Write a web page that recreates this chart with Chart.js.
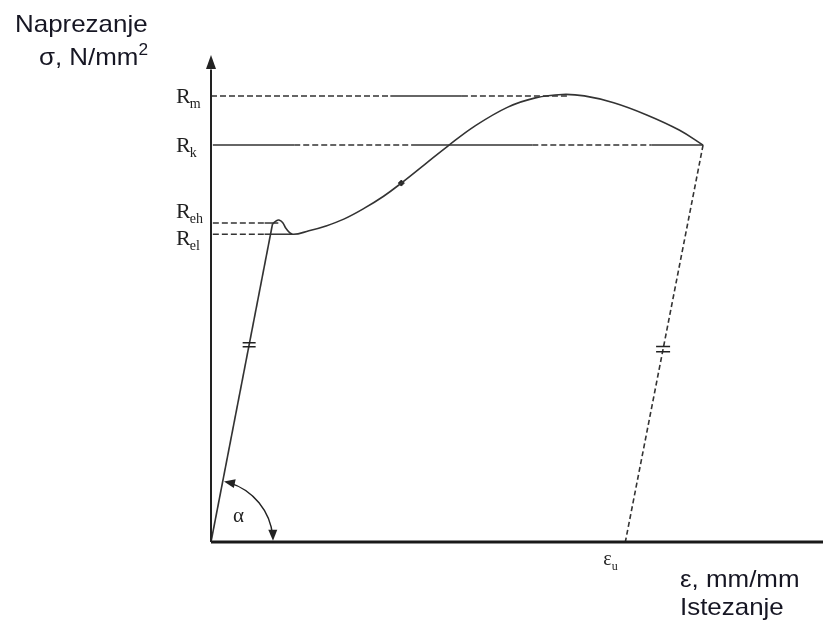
<!DOCTYPE html>
<html>
<head>
<meta charset="utf-8">
<script src="https://cdn.jsdelivr.net/npm/chart.js@4.4.1/dist/chart.umd.min.js"></script>
<style>
  html, body { margin: 0; padding: 0; background: #fff; }
  #wrap { width: 828px; height: 623px; position: relative; }
</style>
</head>
<body>
<div id="wrap"><canvas id="chart"></canvas></div>
<script>
// axis units: x = strain 0..100, y = stress 0..100 (arrow tip)
const levelNames = ['m', 'k', 'eh', 'el'];
const levelValues = [91.6, 81.5, 65.5, 63.2];

// elastic part, origin -> upper yield point
const elasticX = [0, 10.05];
const elasticY = [0, 65.3];

// yield bump + hardening curve up to fracture
const curveX = [10.05, 10.6, 11.1, 11.7, 12.3, 13.3, 16.0, 18.8, 21.7, 25.0, 28.2, 31.1, 35.0, 38.7, 43.1, 48.5, 53.0, 57.4, 61.0, 65.8, 71.2, 76.5, 80.4];
const curveY = [65.3, 65.9, 66.1, 65.6, 64.3, 63.2, 63.9, 64.9, 66.3, 68.5, 71.0, 73.7, 77.6, 81.3, 85.4, 89.3, 91.2, 91.9, 91.6, 90.2, 87.7, 84.6, 81.5];

// small dot on the curve
const dotX = [31.1];
const dotY = [73.7];

// unloading line (fracture -> eps_u)
const unloadX = [80.4, 67.7];
const unloadY = [81.5, 0];
const epsU = 67.7;

// guide lines: break points along x, and which pieces are solid
const rmBreaks = [0, 29.3, 41.0, 58.2];
const rmSolid = [false, true, false];
const rkBreaks = [0.3, 13.6, 32.7, 52.5, 72.0, 80.4];
const rkSolid = [true, false, true, false, true];
const rehBreaks = [0.3, 8.75, 11.0];
const rehSolid = [false, true];
const relBreaks = [0.3, 8.75, 13.3];
const relSolid = [false, true];

// where the "=" marks sit (stress value) on elastic / unloading line
const hashY = [40.5, 39.6];

const INK = '#333';
const DASH = [6, 3];

function pts(xs, ys) { return xs.map((x, i) => ({ x: x, y: ys[i] })); }
function hline(breaks, level) { return breaks.map(x => ({ x: x, y: level })); }

function guide(breaks, solid, level) {
  return {
    data: hline(breaks, level),
    borderColor: INK, borderWidth: 1.5, pointRadius: 0, tension: 0,
    segment: { borderDash: c => solid[c.p0DataIndex] ? [] : DASH }
  };
}

function xOn(line, yv) {
  const [a, b] = line;
  return a.x + (b.x - a.x) * (yv - a.y) / (b.y - a.y);
}

const decor = {
  id: 'decor',
  afterDatasetsDraw(chart) {
    const ctx = chart.ctx;
    const sx = chart.scales.x, sy = chart.scales.y;
    const X = v => sx.getPixelForValue(v), Y = v => sy.getPixelForValue(v);
    const x0 = X(0), y0 = Y(0);
    ctx.save();

    // arrow on stress axis
    ctx.fillStyle = '#222';
    ctx.beginPath();
    ctx.moveTo(x0, Y(100));
    ctx.lineTo(x0 - 5, Y(100) + 14);
    ctx.lineTo(x0 + 5, Y(100) + 14);
    ctx.closePath();
    ctx.fill();

    // "=" marks
    ctx.strokeStyle = '#222';
    ctx.lineWidth = 1.5;
    const lines = [pts(elasticX, elasticY), pts(unloadX, unloadY)];
    lines.forEach((ln, i) => {
      const cx = X(xOn(ln, hashY[i])), cy = Y(hashY[i]);
      const gap = i === 0 ? 2 : 2.6, hw = i === 0 ? 6.5 : 7;
      ctx.beginPath();
      ctx.moveTo(cx - hw, cy - gap); ctx.lineTo(cx + hw, cy - gap);
      ctx.moveTo(cx - hw, cy + gap); ctx.lineTo(cx + hw, cy + gap);
      ctx.stroke();
    });

    // alpha arc between elastic line and strain axis
    const ex = X(elasticX[1]), ey = Y(elasticY[1]);
    const a1 = Math.atan2(ey - y0, ex - x0);
    const r = 62;
    ctx.lineWidth = 1.4;
    ctx.beginPath();
    ctx.arc(x0, y0, r, a1 + 0.1, -0.09);
    ctx.stroke();
    function head(ang, dir) {
      const tx = x0 + r * Math.cos(ang), ty = y0 + r * Math.sin(ang);
      const tang = ang + dir * Math.PI / 2;
      const bx = tx - 11 * Math.cos(tang), by = ty - 11 * Math.sin(tang);
      const nx = -Math.sin(tang) * 4.5, ny = Math.cos(tang) * 4.5;
      ctx.beginPath();
      ctx.moveTo(tx, ty);
      ctx.lineTo(bx + nx, by + ny);
      ctx.lineTo(bx - nx, by - ny);
      ctx.closePath();
      ctx.fill();
    }
    head(a1 + 0.02, -1);
    head(-0.02, 1);

    ctx.textAlign = 'left';
    ctx.font = '21px "Liberation Serif", serif';
    ctx.fillText('\u03b1', x0 + 22, y0 - 20);

    // R labels on the stress axis
    const dy = [7, 7, -5, 11];
    levelNames.forEach((n, i) => {
      const base = Y(levelValues[i]) + dy[i];
      const lx = x0 - 35;
      ctx.font = '22px "Liberation Serif", serif';
      ctx.fillText('R', lx, base);
      const w = ctx.measureText('R').width;
      ctx.font = '14px "Liberation Serif", serif';
      ctx.fillText(n, lx + w - 1, base + 5);
    });

    // eps_u under the strain axis
    const ux = X(epsU) - 22;
    ctx.font = '20px "Liberation Serif", serif';
    ctx.fillText('\u03b5', ux, y0 + 23);
    const we = ctx.measureText('\u03b5').width;
    ctx.font = '12px "Liberation Serif", serif';
    ctx.fillText('u', ux + we, y0 + 28);

    // axis titles
    ctx.fillStyle = '#161623';
    const sans = '"Liberation Sans", Arial, sans-serif';
    function stretched(txt, x, y, size) {
      ctx.save();
      ctx.font = size + 'px ' + sans;
      ctx.translate(x, y);
      ctx.scale(1.08, 1);
      ctx.fillText(txt, 0, 0);
      ctx.restore();
    }
    stretched('Naprezanje', 15, 32, 24);
    ctx.font = '16px ' + sans;
    const w2 = ctx.measureText('2').width * 1.08;
    ctx.font = '24px ' + sans;
    const wm = ctx.measureText('\u03c3, N/mm').width * 1.08;
    stretched('\u03c3, N/mm', 148 - w2 - wm, 65, 24);
    stretched('2', 148 - w2, 55, 16);
    stretched('\u03b5, mm/mm', 680, y0 + 45, 24);
    stretched('Istezanje', 680, y0 + 73, 24);

    ctx.restore();
  }
};

new Chart(document.getElementById('chart'), {
  type: 'line',
  data: {
    datasets: [
      // axes
      { data: [{ x: 0, y: 0 }, { x: 0, y: 97 }], borderColor: '#222', borderWidth: 2, pointRadius: 0 },
      { data: [{ x: 0, y: 0 }, { x: 100, y: 0 }], borderColor: '#1a1a1a', borderWidth: 3, pointRadius: 0 },
      guide(rmBreaks, rmSolid, levelValues[0]),
      guide(rkBreaks, rkSolid, levelValues[1]),
      guide(rehBreaks, rehSolid, levelValues[2]),
      guide(relBreaks, relSolid, levelValues[3]),
      { data: pts(elasticX, elasticY), borderColor: INK, borderWidth: 1.6, pointRadius: 0, tension: 0 },
      { data: pts(curveX, curveY), borderColor: INK, borderWidth: 1.6, pointRadius: 0, tension: 0.4 },
      { data: pts(unloadX, unloadY), borderColor: INK, borderWidth: 1.6, pointRadius: 0, borderDash: [5, 3] },
      { data: pts(dotX, dotY), showLine: false, pointStyle: 'rectRot', pointRadius: 3, backgroundColor: '#222', borderColor: '#222' }
    ]
  },
  options: {
    responsive: true,
    maintainAspectRatio: false,
    animation: false,
    events: [],
    layout: { padding: { left: 211, right: 0, top: 55, bottom: 81 } },
    datasets: { line: { clip: false, fill: false } },
    plugins: { legend: { display: false }, tooltip: { enabled: false } },
    scales: {
      x: { type: 'linear', min: 0, max: 100, display: false },
      y: { type: 'linear', min: 0, max: 100, display: false }
    }
  },
  plugins: [decor]
});
</script>
</body>
</html>
